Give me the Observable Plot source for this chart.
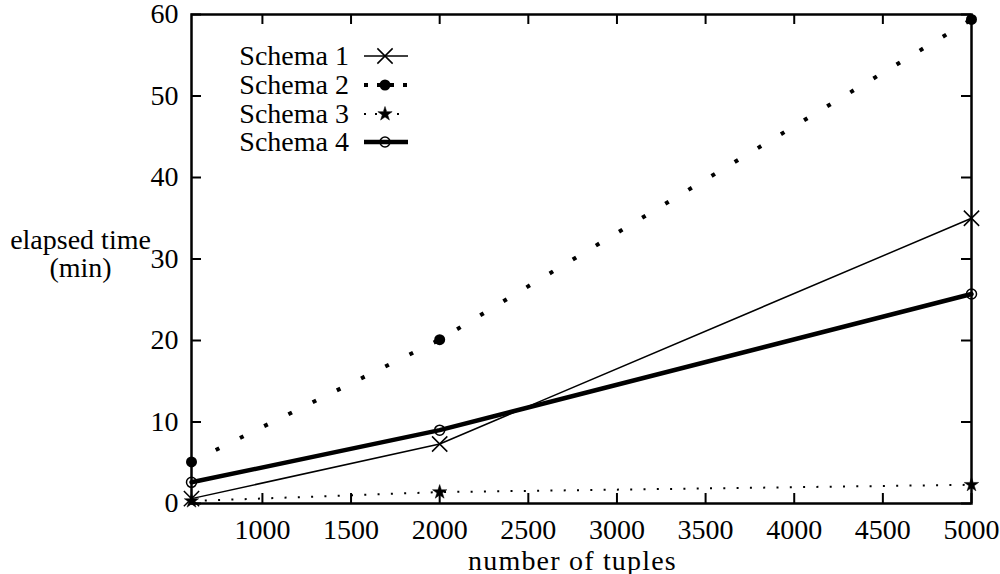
<!DOCTYPE html>
<html>
<head>
<meta charset="utf-8">
<script src="https://cdn.jsdelivr.net/npm/d3@7"></script>
<script src="https://cdn.jsdelivr.net/npm/@observablehq/plot@0.6"></script>
<style>
  html, body { margin: 0; padding: 0; background: #fff; }
  #chart { width: 1000px; height: 574px; }
</style>
</head>
<body>
<div id="chart"></div>
<script>
// ---- data ----
const tuples  = [600, 2000, 5000];
const schema1 = [0.6, 7.3, 35.0];
const schema2 = [5.1, 20.1, 59.4];
const schema3 = [0.3, 1.4, 2.3];
const schema4 = [2.6, 9.0, 25.7];
const seriesNames = ["Schema 1", "Schema 2", "Schema 3", "Schema 4"];
const xTicks = [1000, 1500, 2000, 2500, 3000, 3500, 4000, 4500, 5000];
const yTicks = [0, 10, 20, 30, 40, 50, 60];
const xLabel = "number of tuples";
const yLabel = "elapsed time\n(min)";

// ---- layout ----
const W = 1000, H = 574;
const mL = 191, mR = 29, mT = 14, mB = 71;
const fw = W - mL - mR, fh = H - mT - mB;
const FONT = "Liberation Serif";
const FS = 28;

const allValues = [schema1, schema2, schema3, schema4];
const toRows = (vals) => tuples.map((t, i) => ({x: t, y: vals[i]}));
const rows = allValues.map(toRows);

const styles = [
  {line: {strokeWidth: 1.5}, dot: {symbol: "times", r: 7, stroke: "black", strokeWidth: 1.5, fill: "none"}},
  {line: {strokeWidth: 4, strokeDasharray: "4,23", strokeLinecap: "butt"}, dot: {symbol: "circle", r: 5.5, fill: "black", stroke: "none"}},
  {line: {strokeWidth: 2, strokeDasharray: "2,11.3", strokeLinecap: "butt"}, dot: {symbol: "star", r: 4.5, fill: "black", stroke: "black", strokeWidth: 0.5}},
  {line: {strokeWidth: 4.5}, dot: {symbol: "circle", r: 5, fill: "none", stroke: "black", strokeWidth: 1.5}}
];

const marks = [];
marks.push(Plot.ruleX(xTicks, {x: d => d, insetTop: fh - 10, stroke: "black", strokeWidth: 2}));
marks.push(Plot.ruleX(xTicks, {x: d => d, insetBottom: fh - 10, stroke: "black", strokeWidth: 2}));
marks.push(Plot.ruleY(yTicks, {y: d => d, insetRight: fw - 10, stroke: "black", strokeWidth: 2}));
marks.push(Plot.ruleY(yTicks, {y: d => d, insetLeft: fw - 10, stroke: "black", strokeWidth: 2}));
marks.push(Plot.frame({stroke: "black", strokeWidth: 2.5}));
marks.push(Plot.axisX(xTicks, {tickSize: 0, tickPadding: 16, fontSize: FS, label: null, tickFormat: d => String(d), fontFamily: FONT}));
marks.push(Plot.axisY(yTicks, {tickSize: 0, tickPadding: 13, fontSize: FS, label: null, tickFormat: d => String(d), fontFamily: FONT}));
marks.push(Plot.text([xLabel], {text: d => d, frameAnchor: "bottom", dx: -9, dy: 66, fontSize: FS, fontFamily: FONT}));
marks.push(Plot.text([yLabel], {text: d => d, frameAnchor: "left", dx: -111, dy: -5, fontSize: FS, lineHeight: 1.0, textAnchor: "middle", fontFamily: FONT}));
rows.forEach((r, i) => {
  marks.push(Plot.line(r, {x: "x", y: "y", stroke: "black", ...styles[i].line}));
});
rows.forEach((r, i) => {
  marks.push(Plot.dot(r, {x: "x", y: "y", ...styles[i].dot}));
});

const chart = Plot.plot({
  width: W, height: H,
  marginLeft: mL, marginRight: mR, marginTop: mT, marginBottom: mB,
  x: {domain: [600, 5000], axis: null},
  y: {domain: [0, 60], axis: null},
  style: {fontSize: FS + "px", fontFamily: FONT, color: "black", background: "white"},
  marks
});
document.getElementById("chart").appendChild(chart);

// x-axis title: slightly wider tracking, like the reference's typeface
d3.select(chart).selectAll("text").filter(function () { return this.textContent === xLabel; })
  .attr("letter-spacing", "1.2px");

// ---- legend ----
const svg = d3.select(chart);
const lg = svg.append("g").attr("font-size", FS).attr("font-family", FONT);
const legendY = [56, 85, 114, 142];
const lx0 = 364, lx1 = 408, lmx = 385, ltx = 349;
seriesNames.forEach((name, i) => {
  const y = legendY[i];
  lg.append("text").attr("x", ltx).attr("y", y).attr("text-anchor", "end")
    .attr("dy", "0.32em").attr("fill", "black").text(name);
  const s = styles[i].line;
  lg.append("line").attr("x1", lx0).attr("x2", lx1).attr("y1", y).attr("y2", y)
    .attr("stroke", "black").attr("stroke-width", s.strokeWidth)
    .attr("stroke-dasharray", s.strokeDasharray ? (i === 1 ? "4,9" : "2,9") : null);
  const d = styles[i].dot;
  const sym = {times: d3.symbolTimes, circle: d3.symbolCircle, star: d3.symbolStar}[d.symbol];
  lg.append("path").attr("transform", `translate(${lmx},${y})`)
    .attr("d", d3.symbol(sym, Math.PI * d.r * d.r)())
    .attr("fill", d.fill).attr("stroke", d.stroke).attr("stroke-width", d.strokeWidth || 0);
});
</script>
</body>
</html>
